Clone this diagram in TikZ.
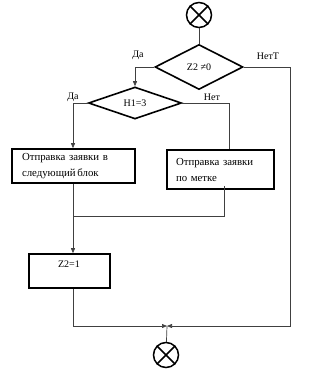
\documentclass[tikz,border=0pt]{standalone}
\usepackage{fontspec}
\setmainfont{Liberation Serif}
\usetikzlibrary{arrows.meta,shapes.geometric,positioning}

\begin{document}
\begin{tikzpicture}[x=1pt,y=-1pt,
  line/.style={black!75,line width=.7pt},
  arr/.style={line,-{Triangle[length=5pt,width=4pt]}},
  blk/.style={draw,line width=1.6pt,inner sep=0pt},
  cond/.style={blk,diamond,font=\fontsize{10}{12}\selectfont},
  term/.style={draw,circle,line width=1.5pt,minimum size=25pt,inner sep=0pt},
  txt/.style={font=\fontsize{10}{16}\selectfont},
  btxt/.style={font=\fontsize{10.8}{16}\selectfont}]
  \useasboundingbox (0,0) rectangle (324,370);
  % terminals
  \node[term] (start) at (199,15) {};
  \draw[line width=1.5pt] (start.north west)--(start.south east) (start.north east)--(start.south west);
  \node[term] (stop) at (166,355) {};
  \draw[line width=1.5pt] (stop.north west)--(stop.south east) (stop.north east)--(stop.south west);
  % conditions
  \node[cond,minimum width=88pt,minimum height=45pt] (z2) at (199,67) {Z2 ≠0};
  \node[cond,minimum width=93pt,minimum height=32pt] (h1) at (135,103) {H1=3};
  % actions
  \node[blk,btxt,minimum width=123pt,minimum height=34pt,text width=103pt,align=left] (send1) at (73.5,166)
    {Отправка заявки в\\следующий\,блок};
  \node[blk,btxt,minimum width=107pt,minimum height=39pt,text width=89pt,align=left] (send2) at (220.5,169.5)
    {Отправка заявки\\по метке};
  \node[blk,minimum width=81pt,minimum height=34pt] (z2set) at (69.5,271) {};
  \node[txt] (z2txt) at (69,264) {Z2=1};
  % branch labels
  \node[txt] (yes1) at (138,55) {Да};
  \node[txt] (no1) at (268,56) {НетТ};
  \node[txt] (yes2) at (73,97) {Да};
  \node[txt] (no2) at (212,97) {Нет};
  % connectors
  \coordinate (mg) at (73,216);
  \coordinate (jn) at (167,326);
  \coordinate (rc) at (290,326);
  \draw[line] (start)--(z2);
  \draw[arr] (z2.west) -| (h1.north);
  \draw[arr] (z2.east) -| (rc) -- (jn);
  \draw[arr] (h1.west) -| (send1.north -| mg);
  \draw[line] (h1.east) -| ([xshift=8.5pt]send2.north);
  \draw[arr] (send1.south -| mg) -- (z2set.north -| mg);
  \draw[line] ([xshift=3.5pt,yshift=4pt]send2.south) |- (mg);
  \draw[arr] (z2set.south -| mg) |- (jn);
  \draw[line] (jn) -- (stop);
\end{tikzpicture}
\end{document}
